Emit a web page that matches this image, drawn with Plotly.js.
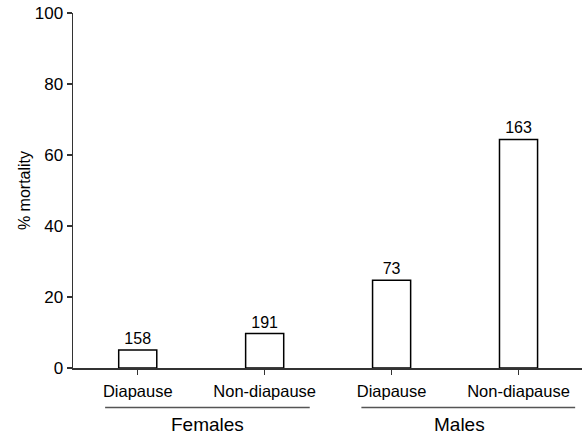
<!DOCTYPE html>
<html>
<head>
<meta charset="utf-8">
<script src="https://cdn.plot.ly/plotly-3.0.1.min.js"></script>
<style>html,body{margin:0;padding:0;background:#fff;}#chart{width:582px;height:435px;}</style>
</head>
<body>
<div id="chart"></div>
<script>
const categories = ["Diapause", "Non-diapause", "Diapause ", "Non-diapause "];
const mortality = [5.1, 9.7, 24.7, 64.4];
const sampleSizes = ["158", "191", "73", "163"];
const groups = ["Females", "Males"];
const yTicks = [0, 20, 40, 60, 80, 100];

const xIdx = categories.map((c, i) => i);

const font = "Liberation Sans, Arial, sans-serif";

const trace = {
  type: "bar",
  x: xIdx,
  y: mortality,
  width: 0.3,
  text: sampleSizes,
  textposition: "outside",
  cliponaxis: false,
  textfont: {family: font, size: 16, color: "#000"},
  marker: {color: "#ffffff", line: {color: "#000000", width: 1.5}},
  hoverinfo: "none"
};

const layout = {
  width: 582, height: 435,
  margin: {l: 73, r: 0, t: 13, b: 67},
  paper_bgcolor: "#fff", plot_bgcolor: "#fff",
  showlegend: false,
  font: {family: font, color: "#000"},
  xaxis: {
    range: [-0.51, 3.5],
    tickvals: xIdx,
    ticktext: categories.map(s => s.trim()),
    ticks: "outside", ticklen: 5, tickwidth: 1.3, tickcolor: "#333",
    showline: true, linecolor: "#333", linewidth: 1.5,
    showgrid: false, zeroline: false,
    tickfont: {family: font, size: 16.5, color: "#000"},
    ticklabelstandoff: 3,
    fixedrange: true
  },
  yaxis: {
    range: [0, 100],
    tickvals: yTicks,
    ticks: "outside", ticklen: 5, tickwidth: 1.3, tickcolor: "#333",
    showline: true, linecolor: "#333", linewidth: 1.5,
    showgrid: false, zeroline: false,
    tickfont: {family: font, size: 17, color: "#000"},
    title: {text: "% mortality", font: {family: font, size: 16, color: "#000"}, standoff: 0},
    fixedrange: true
  },
  shapes: [
    {type: "line", xref: "paper", yref: "paper", x0: -0.011, x1: 0, y0: 0, y1: 0, line: {color: "#333", width: 1.5}},
    {type: "line", xref: "x", yref: "paper", x0: -0.257, x1: 1.355, y0: -0.111, y1: -0.111, line: {color: "#555", width: 1.5}},
    {type: "line", xref: "x", yref: "paper", x0: 1.762, x1: 3.446, y0: -0.111, y1: -0.111, line: {color: "#555", width: 1.5}}
  ],
  annotations: [
    {text: groups[0], xref: "x", yref: "paper", x: 0.55, y: -0.158, yanchor: "middle", showarrow: false, font: {family: font, size: 19, color: "#000"}},
    {text: groups[1], xref: "x", yref: "paper", x: 2.536, y: -0.158, yanchor: "middle", showarrow: false, font: {family: font, size: 19, color: "#000"}}
  ]
};

Plotly.newPlot("chart", [trace], layout, {displayModeBar: false, staticPlot: true});
</script>
</body>
</html>
